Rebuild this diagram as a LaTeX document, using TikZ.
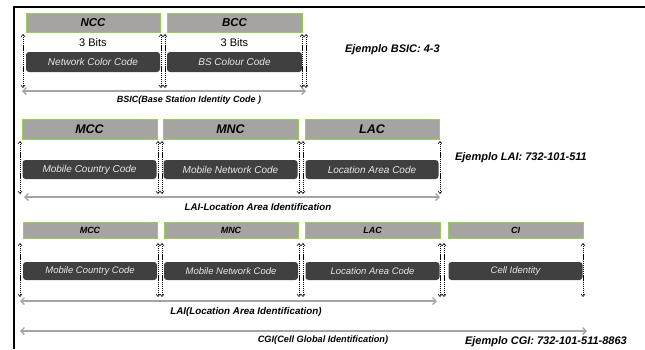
\documentclass[tikz,border=0pt]{standalone}
\usepackage{fontspec}
\setmainfont{Liberation Sans}
\usetikzlibrary{arrows.meta}
\definecolor{boxfill}{RGB}{166,164,163}
\definecolor{boxedge}{RGB}{146,208,80}
\definecolor{darkfill}{RGB}{64,64,64}
\definecolor{darktext}{RGB}{232,232,232}
\definecolor{arrowgray}{RGB}{165,165,165}
\newcommand{\fsz}[1]{\fontsize{#1}{#1}\selectfont}
\tikzset{
  topbox/.style={fill=boxfill, draw=boxedge, line width=0.8pt, inner sep=0pt, outer sep=0pt, font=\bfseries\itshape},
  darkbox/.style={fill=darkfill, rounded corners=3pt, inner sep=0pt, outer sep=0pt, text=darktext, font=\itshape},
  plain/.style={inner sep=0pt, outer sep=0pt},
  lbl/.style={inner sep=0pt, outer sep=0pt, font=\bfseries\itshape\fsz{9}},
  ex/.style={inner sep=0pt, outer sep=0pt, anchor=west, font=\bfseries\itshape\fsz{11}},
  darr/.style={draw=black, line width=0.6pt, dash pattern=on 1.3pt off 0.8pt,
    {Straight Barb[length=2.4pt,width=4pt]}-{Straight Barb[length=2.4pt,width=4pt]}},
  garr/.style={draw=arrowgray, line width=1.3pt,
    {Straight Barb[length=3.5pt,width=7pt]}-{Straight Barb[length=3.5pt,width=7pt]}},
  frame/.style={draw=black, line width=1.2pt}
}
\begin{document}
\begin{tikzpicture}[x=1pt,y=-1pt]
\useasboundingbox (0,0) rectangle (645,349);
% frame
\coordinate (fr1) at (645,7);
\coordinate (fr2) at (14,7);
\coordinate (fr3) at (14,349);
\draw[frame] (fr1) -- (fr2) -- (fr3);

% ---------- Row 1: BSIC ----------
\node[topbox, minimum width=134pt, minimum height=19pt, font=\bfseries\itshape\fsz{11.5}] (ncc) at (93,22.5) {NCC};
\node[topbox, minimum width=135pt, minimum height=19pt, font=\bfseries\itshape\fsz{11.5}] (bcc) at (234.5,22.5) {BCC};
\node[plain, font=\fsz{11}] (bits1) at (93,43) {3 Bits};
\node[plain, font=\fsz{11}] (bits2) at (234.5,43) {3 Bits};
\node[darkbox, minimum width=134pt, minimum height=20pt, font=\itshape\fsz{10}] (ncode) at (93,62) {Network Color Code};
\node[darkbox, minimum width=135pt, minimum height=20pt, font=\itshape\fsz{10}] (bcode) at (234.5,62) {BS Colour Code};
\foreach \x [count=\i] in {23,161,165,302,306} {
  \coordinate (r1t\i) at (\x,34);
  \coordinate (r1b\i) at (\x,88);
  \draw[darr] (r1t\i) -- (r1b\i);
}
\coordinate (g1l) at (22,91);
\coordinate (g1r) at (306,91);
\draw[garr] (g1l) -- (g1r);
\node[lbl] (bsic) at (189,100.5) {BSIC(Base Station Identity Code )};
\node[ex] (exbsic) at (345,50) {Ejemplo BSIC: 4-3};

% ---------- Row 2: LAI ----------
\node[topbox, minimum width=135pt, minimum height=20pt, font=\bfseries\itshape\fsz{12.5}] (mcc2) at (89.5,129) {MCC};
\node[topbox, minimum width=135pt, minimum height=20pt, font=\bfseries\itshape\fsz{12.5}] (mnc2) at (230.5,129) {MNC};
\node[topbox, minimum width=134pt, minimum height=20pt, font=\bfseries\itshape\fsz{12.5}] (lac2) at (372,129) {LAC};
\node[darkbox, minimum width=134pt, minimum height=19pt, font=\itshape\fsz{10}] (mccd2) at (89.5,169.5) {Mobile Country Code};
\node[darkbox, minimum width=134pt, minimum height=19pt, font=\itshape\fsz{10}] (mncd2) at (230.5,169.5) {Mobile Network Code};
\node[darkbox, minimum width=133pt, minimum height=19pt, font=\itshape\fsz{10}] (lacd2) at (372,169.5) {Location Area Code};
\foreach \x [count=\i] in {20,158,162,299,303,440} {
  \coordinate (r2t\i) at (\x,141);
  \coordinate (r2b\i) at (\x,194);
  \draw[darr] (r2t\i) -- (r2b\i);
}
\coordinate (g2l) at (24,197);
\coordinate (g2r) at (440,197);
\draw[garr] (g2l) -- (g2r);
\node[lbl, font=\bfseries\itshape\fsz{9.7}] (lai2) at (258,207.5) {LAI-Location Area Identification};
\node[ex] (exlai) at (455,158) {Ejemplo LAI: 732-101-511};

% ---------- Row 3: CGI ----------
\node[topbox, minimum width=134pt, minimum height=16pt, font=\bfseries\itshape\fsz{9}] (mcc3) at (90,230) {MCC};
\node[topbox, minimum width=134pt, minimum height=16pt, font=\bfseries\itshape\fsz{9}] (mnc3) at (231,230) {MNC};
\node[topbox, minimum width=135pt, minimum height=16pt, font=\bfseries\itshape\fsz{9}] (lac3) at (372.5,230) {LAC};
\node[topbox, minimum width=135pt, minimum height=16pt, font=\bfseries\itshape\fsz{9}] (ci3) at (515.5,230) {CI};
\node[darkbox, minimum width=134pt, minimum height=18pt, font=\itshape\fsz{9.5}] (mccd3) at (90,271) {Mobile Country Code};
\node[darkbox, minimum width=134pt, minimum height=18pt, font=\itshape\fsz{9.5}] (mncd3) at (231,271) {Mobile Network Code};
\node[darkbox, minimum width=134pt, minimum height=18pt, font=\itshape\fsz{9.5}] (lacd3) at (372.5,271) {Location Area Code};
\node[darkbox, minimum width=134pt, minimum height=18pt, font=\itshape\fsz{9.5}] (cid3) at (515.5,271) {Cell Identity};
\foreach \x [count=\i] in {20,158,162,299,303,440,444,583} {
  \coordinate (r3t\i) at (\x,243);
  \coordinate (r3b\i) at (\x,297);
  \draw[darr] (r3t\i) -- (r3b\i);
}
\coordinate (g3l) at (20,301);
\coordinate (g3r) at (437,301);
\draw[garr] (g3l) -- (g3r);
\node[lbl, font=\bfseries\itshape\fsz{9.8}] (lai3) at (246,311.5) {LAI(Location Area Identification)};
\coordinate (g4l) at (20,331);
\coordinate (g4r) at (587,331);
\draw[garr] (g4l) -- (g4r);
\node[lbl, font=\bfseries\itshape\fsz{9.2}] (cgi) at (323,340.5) {CGI(Cell Global Identification)};
\node[ex] (excgi) at (465,342) {Ejemplo CGI: 732-101-511-8863};
\end{tikzpicture}
\end{document}
